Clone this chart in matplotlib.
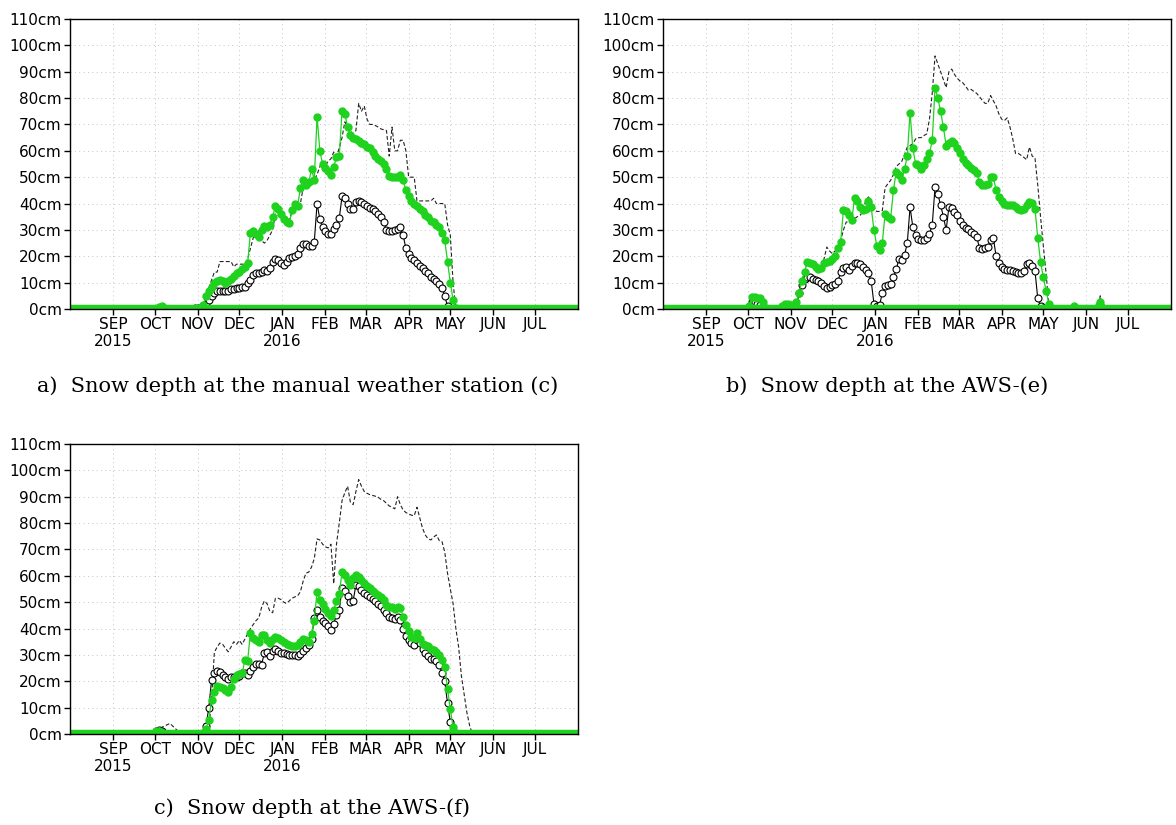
"""
snow depth comparison at three stations, winter 2015/16.
"""
import numpy as np
import pandas as pd
import matplotlib

matplotlib.use("Agg")
import matplotlib.pyplot as plt

GREEN = "#1ed21e"

# every series is sampled every 2 days starting 2015-10-02
season_start = "2015-10-02"

month_ticks = pd.date_range("2015-09-01", periods=11, freq="MS")
month_labels = ["SEP\n2015", "OCT", "NOV", "DEC", "JAN\n2016", "FEB",
                "MAR", "APR", "MAY", "JUN", "JUL"]
depth_ticks = list(range(0, 111, 10))

captions = [
    "a)  Snow depth at the manual weather station (c)",
    "b)  Snow depth at the AWS-(e)",
    "c)  Snow depth at the AWS-(f)",
]

############################################################
#                 panel a: manual station (c)              #
############################################################
a_green = [
    0, 0.8, 1, 0.3, 0, 0, 0, 0, 0, 0, 0, 0, 0, 0, 0,  # Oct
    0, 0.5, 1.5, 5, 7, 8.5, 10, 10.5, 11, 10.5,
    10, 10.5, 11.5, 12.5, 13.5, 14, 15, 16, 17.5, 29,
    29.5, 28.5, 27.5, 30, 31.5, 31, 32, 35, 39, 38,
    36, 34, 33, 32.5, 37.5, 40, 39, 46, 49, 47,
    48, 53, 49, 73, 60, 55, 53.5, 52.5, 51, 54,
    57.5, 58, 75, 74, 69, 66, 65, 64.3, 63.6, 63,
    62.5, 61.5, 61, 59.5, 58, 57, 56, 55, 53, 50.5,
    50, 50, 50, 51, 49, 45, 43, 41, 40, 39,
    38, 37, 35.5, 35, 33.5, 33, 32, 31, 29, 26,
    18, 10, 3.5, 0.5, 0, 0, 0, 0, 0, 0,
]
a_aws = [
    0, 0, 0, 0, 0, 0, 0, 0, 0, 0, 0, 0, 0, 0, 0.5,  # Oct
    0.5, 0, 0.5, 2, 3.5, 5, 6, 7, 7, 7,
    7, 7, 7.5, 7.5, 8, 8, 8.3, 8.5, 10, 11,
    13, 13.5, 13.5, 14, 14.8, 14.5, 15.5, 18, 19, 18.5,
    17.3, 16.8, 18, 19.5, 19.8, 20, 21, 23, 24.5, 24.5,
    24, 23.8, 25.5, 40, 34, 31, 29.5, 28.5, 28.3, 30.5,
    32, 34.5, 42.7, 42, 40, 38, 37.8, 40.5, 41, 40.5,
    40, 39, 38.3, 37.8, 37, 36, 35, 33, 30, 29.6,
    29.6, 30, 30.5, 31, 28, 23, 21, 19.5, 18.5, 17.5,
    16.5, 15.5, 14.5, 13.5, 12, 11.2, 10.5, 9.5, 8, 5,
    1, 0, 0, 0, 0, 0, 0, 0, 0, 0,
]
a_obs = [
    0, 0, 0, 0, 0, 0, 0, 0, 0, 0, 0, 0, 0, 0, 0,  # Oct
    0, 0, 1, 5, 8, 11, 14, 14, 18, 18,
    18, 18, 18, 16, 17, 17, 17, 17, 19, 23,
    27, 28, 30, 26, 25, 26, 28, 30, 36, 35.5,
    35, 34, 33, 34, 37, 38, 38.5, 40, 46, 46.5,
    47, 47, 49, 51, 54, 56, 54.5, 56, 57, 59.5,
    58, 61, 65, 71, 69, 67.5, 66.5, 67.7, 78, 75,
    77, 72, 70, 70, 69.6, 69, 68.3, 68, 67.7, 58,
    69, 60, 60, 64, 64, 60, 50, 50, 50, 41,
    41, 41, 41, 41, 41, 42, 40, 40, 40, 40,
    32, 28, 10, 0, 0, 0, 0, 0, 0, 0,
]

############################################################
#                     panel b: AWS-(e)                     #
############################################################
b_green = [
    1, 4.5, 4.5, 4, 4, 2.5, 0.5, 0, 0, 0, 0, 0, 1, 2, 2,  # Oct
    1.5, 1, 2.5, 6, 10.5, 14, 18, 17.5, 17, 16,
    15.3, 15.5, 17.3, 17.8, 18.3, 19, 20, 23, 25.5, 37.5,
    37.3, 35.6, 33.7, 42, 41, 38.5, 37.5, 37.8, 41, 38.5,
    30, 24, 22.5, 25, 36, 35, 34.3, 45, 52, 51,
    49, 53, 58, 74.5, 61, 55, 54.5, 53, 54.5, 57,
    59, 64, 84, 80, 75, 69, 62, 63, 63.6, 63,
    61, 59, 57, 55.5, 54.5, 53.6, 52.6, 51.5, 48, 46.9,
    46.9, 47.5, 50, 50, 45, 42.5, 41, 40, 39.3, 39.3,
    39.3, 38.5, 38, 37.5, 38, 39.5, 40.6, 40.2, 38, 27,
    18, 12, 7, 2, 0, 0, 0, 0, 0, 0,
]
b_aws = [
    0.5, 2.5, 2.5, 2, 1.5, 0.5, 0, 0, 0, 0, 0, 0, 0.5, 1, 1,  # Oct
    0.5, 0, 0.5, 6, 9, 11.5, 12.2, 12, 11.5, 11,
    10.5, 9.7, 8.7, 8, 8.2, 9, 9.5, 10.5, 14, 15.5,
    16, 14.8, 16.3, 17.5, 17.6, 17, 16, 14.8, 13.5, 10.5,
    2, 1.3, 1.5, 6, 8.8, 9, 9.5, 12, 15, 19,
    18.6, 20.5, 25, 38.7, 31, 28, 26.5, 26, 26, 27,
    28.5, 32, 46.3, 43.5, 39.5, 35, 30, 38.7, 38.3, 36.8,
    35.5, 33.5, 31.7, 30.7, 30.2, 29.2, 28.3, 27.5, 23, 22.7,
    23, 23.5, 26, 27, 20, 17.3, 15.8, 15.2, 14.9, 14.8,
    14.4, 14, 13.5, 13.5, 14.5, 17, 17.3, 16.3, 14.5, 4,
    1, 0.3, 0, 0, 0, 0, 0, 0, 0, 0,
]
b_obs = [
    0.5, 3, 3, 2.5, 2, 1, 0, 0, 0, 0, 0, 0, 0.5, 1, 1,  # Oct
    0, 0, 1, 6, 10, 14, 18, 17.3, 16.8, 16.2,
    15.8, 15, 19, 23.5, 22, 21, 22, 24, 26, 30,
    33, 33, 33.5, 34.3, 35, 35.5, 37, 41, 42.5, 41,
    38, 37, 37, 37.3, 46, 47.5, 48.8, 51, 54, 55,
    56, 58.5, 61.4, 62, 62.7, 64.5, 65, 65, 65.8, 66.4,
    72, 82, 96, 93, 90, 87, 84, 90, 91, 89,
    87.5, 86.5, 85.8, 84.5, 83, 83.3, 82.5, 81.8, 80.5, 79.2,
    78, 78, 81, 79, 77, 74, 72, 71.5, 72.5, 69,
    64.5, 59, 59, 58.3, 57.5, 56.6, 61.4, 58, 57.3, 47,
    35, 24, 13.5, 1.5, 0, 0, 0, 0, 0, 0,
]
# small late-season events at AWS-(e)
b_late_dates = ["2016-05-21", "2016-05-23", "2016-05-25", "2016-06-08",
                "2016-06-10", "2016-06-11", "2016-06-13"]
b_late_green = [0, 1, 0, 0, 1.5, 2.5, 0]
b_late_aws = [0, 0.5, 0, 0, 1, 1.5, 0]
b_late_obs = [0, 0.5, 0, 0, 1, 5, 0]

############################################################
#                     panel c: AWS-(f)                     #
############################################################
c_green = [
    1, 1, 0.5, 0, 0, 0, 0, 0, 0, 0, 0, 0, 0, 0, 0,  # Oct
    0, 0, 0.5, 2, 5.5, 13, 16, 18.2, 18, 17.5,
    16.8, 16, 18, 21, 22.2, 22.6, 23, 28, 27.8, 38.5,
    36.5, 35.8, 35, 37.5, 37.6, 35.6, 34.4, 36, 36.8, 36.3,
    35.5, 34.8, 34.3, 33.8, 33.4, 33.2, 33.6, 35, 36, 35.8,
    35, 38, 43, 54, 51, 49.2, 47.5, 46, 44.6, 47,
    50.5, 53.2, 61.5, 60.5, 58.5, 56.4, 59.3, 60.5, 59.5, 58.3,
    57.1, 56.2, 55.5, 54.2, 53.4, 52.7, 51.8, 50.9, 49, 48.3,
    48, 47.6, 48, 47.8, 44.5, 41.5, 39, 36.8, 36.5, 38.5,
    36, 34.2, 33.7, 33.2, 32.3, 31.8, 31.2, 29.8, 28.2, 25.5,
    17, 9.5, 2.5, 0.5, 0, 0, 0, 0, 0, 0,
]
c_aws = [
    1, 1.5, 1.2, 0.5, 0, 0, 0, 0, 0, 0, 0, 0, 0, 0, 0,  # Oct
    0, 0, 0.5, 3, 10, 20.5, 23.3, 24, 23.6, 22.5,
    21.7, 21, 21.5, 21.7, 21.8, 22, 23, 23, 22.5, 24,
    25.5, 26.4, 26.7, 26.3, 30.6, 31.1, 29.5, 31.5, 32.1, 31.5,
    30.8, 30.6, 30.4, 30, 29.9, 29.9, 29.5, 30.2, 31.5, 32.8,
    33.7, 36.2, 44, 47, 44.5, 43, 42, 41, 39.6, 41.9,
    45.3, 46.9, 55.3, 54.2, 52.2, 50.2, 50.6, 56.5, 56, 54.6,
    53.6, 52.6, 51.8, 51.2, 50.5, 49.5, 48.4, 47.2, 45.8, 44.4,
    44, 43.8, 44.2, 43.3, 39.8, 37, 35.5, 34.5, 33.9, 35.6,
    34.5, 32.3, 30.6, 29.6, 28.6, 28.6, 27.7, 26.3, 23.3, 20,
    11.6, 4.5, 1, 0, 0, 0, 0, 0, 0, 0,
]
c_obs = [
    1, 2.5, 2.5, 3, 3.5, 4, 3, 2, 1, 0.5, 0, 0, 0, 0, 0.5,  # Oct
    0, 0, 0, 0.5, 2, 13, 31, 33, 34.5, 34,
    32.5, 31.2, 33, 35, 34, 35.5, 34, 36, 38, 40,
    41.5, 43, 44, 48, 50.5, 49.4, 46.5, 46, 51.5, 51.5,
    51, 50, 49.5, 50.5, 51.5, 52, 52.4, 54, 58, 61,
    61.4, 63.3, 66.5, 74, 73.6, 72, 71, 70.6, 72, 57,
    72, 80, 88.5, 91.5, 94, 88, 87, 92, 96.5, 94,
    92, 91.3, 90.8, 90.5, 90.2, 89.8, 89, 88.5, 87.5, 86.5,
    86, 85.4, 90, 87, 85, 84, 83.5, 83, 82.8, 86,
    82, 78, 75.5, 74, 73.6, 74.7, 75.5, 73.4, 73, 69,
    61, 55, 49.5, 40, 33, 22, 15, 8, 3, 0,
]


def draw_series(ax, dates, green, aws, obs):
    ax.plot(dates, obs, color="#222222", lw=0.8, ls=(0, (3.5, 2)), zorder=2)
    ax.plot(dates, aws, color="black", lw=0.8, marker="o", ms=5,
            mfc="white", mec="black", mew=0.8, zorder=3)
    ax.plot(dates, green, color=GREEN, lw=0.9, marker="o", ms=5,
            mfc=GREEN, mec=GREEN, zorder=4)


def draw_panel(ax, green, aws, obs):
    dates = pd.date_range(season_start, periods=len(green), freq="2D")
    draw_series(ax, dates, green, aws, obs)
    # snow-free days sit on the zero line
    ax.axhline(0.6, color=GREEN, lw=3.2, zorder=5)

    ax.set_xlim(pd.Timestamp("2015-08-01"), pd.Timestamp("2016-08-01"))
    ax.set_ylim(0, 110)
    ax.set_xticks(month_ticks)
    ax.set_xticklabels(month_labels, fontsize=11, linespacing=1.15)
    ax.set_yticks(depth_ticks)
    ax.set_yticklabels([f"{v}cm" for v in depth_ticks], fontsize=11)
    ax.tick_params(direction="out", length=4, width=1, pad=2)
    ax.grid(True, ls=(0, (1, 3.5)), color="#c4c4c4", lw=0.7)
    for s in ax.spines.values():
        s.set_linewidth(1)
        s.set_color("black")
        s.set_zorder(6)


fig = plt.figure(figsize=(11.76, 8.25), dpi=100)
W, H = 1176, 825
axes_px = [(70, 19), (663, 19), (70, 444)]
panels = [(a_green, a_aws, a_obs), (b_green, b_aws, b_obs), (c_green, c_aws, c_obs)]

axes = []
for (x0, y0), series in zip(axes_px, panels):
    ax = fig.add_axes([x0 / W, 1 - (y0 + 290) / H, 508 / W, 290 / H])
    draw_panel(ax, *series)
    axes.append(ax)

draw_series(axes[1], pd.to_datetime(b_late_dates), b_late_green, b_late_aws, b_late_obs)

caption_pos = [(298, 386), (887, 386), (312, 808)]
for (cx, cy), text in zip(caption_pos, captions):
    fig.text(cx / W, 1 - cy / H, text, ha="center", va="center",
             fontsize=15, family="DejaVu Serif")

plt.savefig("out.png", dpi=100)
